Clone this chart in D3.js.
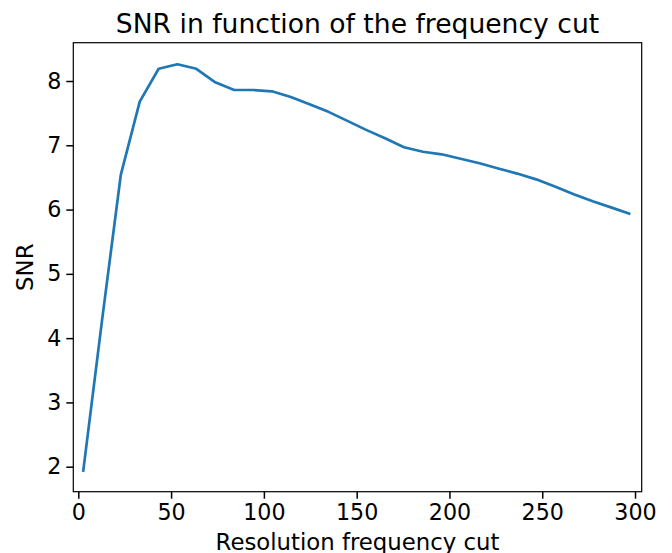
<!DOCTYPE html>
<html>
<head>
<meta charset="utf-8">
<script src="https://cdn.jsdelivr.net/npm/d3@7"></script>
<style>
  body { margin: 0; background: #fff; }
  svg text { font-family: 'DejaVu Sans', sans-serif; fill: #000; }
</style>
</head>
<body>
<div id="chart"></div>
<script>
const freqCut = [2.6, 12.8, 22.9, 33.1, 43.3, 53.4, 63.6, 73.8, 84.0, 94.1,
  104.3, 114.5, 124.6, 134.8, 145.0, 155.1, 165.3, 175.5, 185.7, 195.8,
  206.0, 216.2, 226.3, 236.5, 246.7, 256.8, 267.0, 277.2, 287.4, 297.5];
const snr = [1.92, 4.28, 6.54, 7.68, 8.19, 8.26, 8.19, 7.98, 7.86, 7.86,
  7.84, 7.75, 7.64, 7.52, 7.38, 7.24, 7.11, 6.97, 6.90, 6.86,
  6.79, 6.72, 6.64, 6.56, 6.47, 6.36, 6.24, 6.13, 6.03, 5.93];
const xTicks = [0, 50, 100, 150, 200, 250, 300];
const yTicks = [2, 3, 4, 5, 6, 7, 8];

const W = 672, H = 553;
const margin = { left: 73.3, right: W - 641.7, top: 42.7, bottom: H - 491.7 };
const iw = W - margin.left - margin.right;
const ih = H - margin.top - margin.bottom;

const svg = d3.select('#chart').append('svg').attr('width', W).attr('height', H);
const g = svg.append('g').attr('transform', `translate(${margin.left},${margin.top})`);

const x = d3.scaleLinear().domain([-2.7, 303.6]).range([0, iw]);
const y = d3.scaleLinear().domain([1.611, 8.596]).range([ih, 0]);

const points = freqCut.map((f, i) => ({ f: f, s: snr[i] }));

g.append('path')
  .datum(points)
  .attr('fill', 'none')
  .attr('stroke', '#1f77b4')
  .attr('stroke-width', 2.7)
  .attr('stroke-linejoin', 'round')
  .attr('stroke-linecap', 'butt')
  .attr('d', d3.line().x((d) => x(d.f)).y((d) => y(d.s)));

// axes, matplotlib-ish
const xAxis = g.append('g')
  .attr('transform', `translate(0,${ih})`)
  .call(d3.axisBottom(x).tickValues(xTicks).tickSize(7).tickPadding(6).tickFormat(d3.format('d')));
const yAxis = g.append('g')
  .call(d3.axisLeft(y).tickValues(yTicks).tickSize(7).tickPadding(5).tickFormat(d3.format('d')));

[xAxis, yAxis].forEach((a) => {
  a.select('.domain').remove();
  a.selectAll('.tick line').attr('stroke', '#000').attr('stroke-width', 1.5);
  a.selectAll('.tick text').attr('font-size', 22.2).style('font-family', "'DejaVu Sans', sans-serif");
});

// frame
g.append('rect')
  .attr('width', iw).attr('height', ih)
  .attr('fill', 'none').attr('stroke', '#000').attr('stroke-width', 1.2);

svg.append('text')
  .attr('x', margin.left + iw / 2).attr('y', 33)
  .attr('text-anchor', 'middle').attr('font-size', 26.6)
  .text('SNR in function of the frequency cut');

svg.append('text')
  .attr('x', margin.left + iw / 2).attr('y', 549.5)
  .attr('text-anchor', 'middle').attr('font-size', 22.8)
  .text('Resolution frequency cut');

svg.append('text')
  .attr('transform', `translate(33,${margin.top + ih / 2}) rotate(-90)`)
  .attr('text-anchor', 'middle').attr('font-size', 22.8)
  .text('SNR');
</script>
</body>
</html>
